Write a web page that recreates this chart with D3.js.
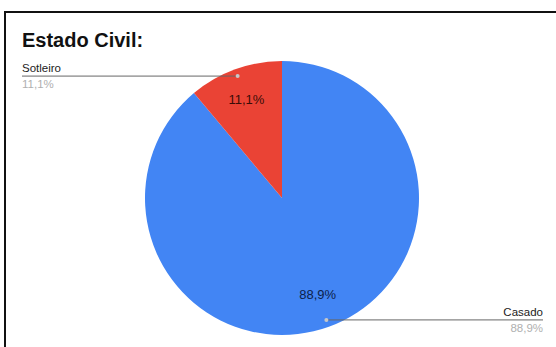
<!DOCTYPE html>
<html>
<head>
<meta charset="utf-8">
<script src="https://cdn.jsdelivr.net/npm/d3@7"></script>
<style>
  html, body { margin: 0; padding: 0; background: #fff; }
  svg { display: block; font-family: "Liberation Sans", Arial, sans-serif; }
</style>
</head>
<body>
<svg id="chart" width="556" height="347"></svg>
<script>
// Marital status responses
const categories = ["Casado", "Sotleiro"];
const counts = [8, 1];
const colors = ["#4285f4", "#ea4335"];
const title = "Estado Civil:";

const svg = d3.select("#chart");
const W = 556, H = 347;

// frame
svg.append("path")
  .attr("d", `M5,${H + 2} V12 H${W + 2}`)
  .attr("fill", "none")
  .attr("stroke", "#111")
  .attr("stroke-width", 2);

svg.append("text")
  .attr("x", 22).attr("y", 47)
  .attr("font-size", 20).attr("font-weight", "bold")
  .attr("fill", "#111")
  .text(title);

const cx = 282, cy = 198, r = 137;
const total = d3.sum(counts);
const fmt = v => (v / total * 100).toFixed(1).replace(".", ",") + "%";

const pie = d3.pie().sort(null).value(d => d)(counts);
const arc = d3.arc().innerRadius(0).outerRadius(r);
const mid = d => (d.startAngle + d.endAngle) / 2;

const g = svg.append("g").attr("transform", `translate(${cx},${cy})`);
g.selectAll("path.slice").data(pie).join("path")
  .attr("class", "slice")
  .attr("d", arc)
  .attr("fill", (d, i) => colors[i]);

// in-slice percentages
const labelArc = d3.arc().innerRadius(r * 0.76).outerRadius(r * 0.76);
g.selectAll("text.pct").data(pie).join("text")
  .attr("class", "pct")
  .attr("transform", d => `translate(${labelArc.centroid(d)})`)
  .attr("text-anchor", "middle")
  .attr("dominant-baseline", "middle")
  .attr("font-size", 13)
  .attr("fill", (d, i) => i === 0 ? "#0d1f4a" : "#3a0d08")
  .text(d => fmt(d.data));

// leader labels outside the pie
pie.forEach((d, i) => {
  const a = mid(d);
  const px = cx + Math.sin(a) * r * 0.947;
  const py = cy - Math.cos(a) * r * 0.947;
  const left = px < cx;
  const x2 = left ? 22 : 543;
  const anchor = left ? "start" : "end";
  svg.append("line")
    .attr("x1", px).attr("y1", py)
    .attr("x2", x2).attr("y2", py)
    .attr("stroke", "#666").attr("stroke-width", 1);
  svg.append("circle")
    .attr("cx", px).attr("cy", py).attr("r", 2)
    .attr("fill", "#c8c8c8");
  svg.append("text")
    .attr("x", x2).attr("y", py - 4)
    .attr("text-anchor", anchor)
    .attr("font-size", 11.5).attr("fill", "#222")
    .text(categories[i]);
  svg.append("text")
    .attr("x", x2).attr("y", py + 12)
    .attr("text-anchor", anchor)
    .attr("font-size", 11.5).attr("fill", "#b0b0b0")
    .text(fmt(d.data));
});
</script>
</body>
</html>
